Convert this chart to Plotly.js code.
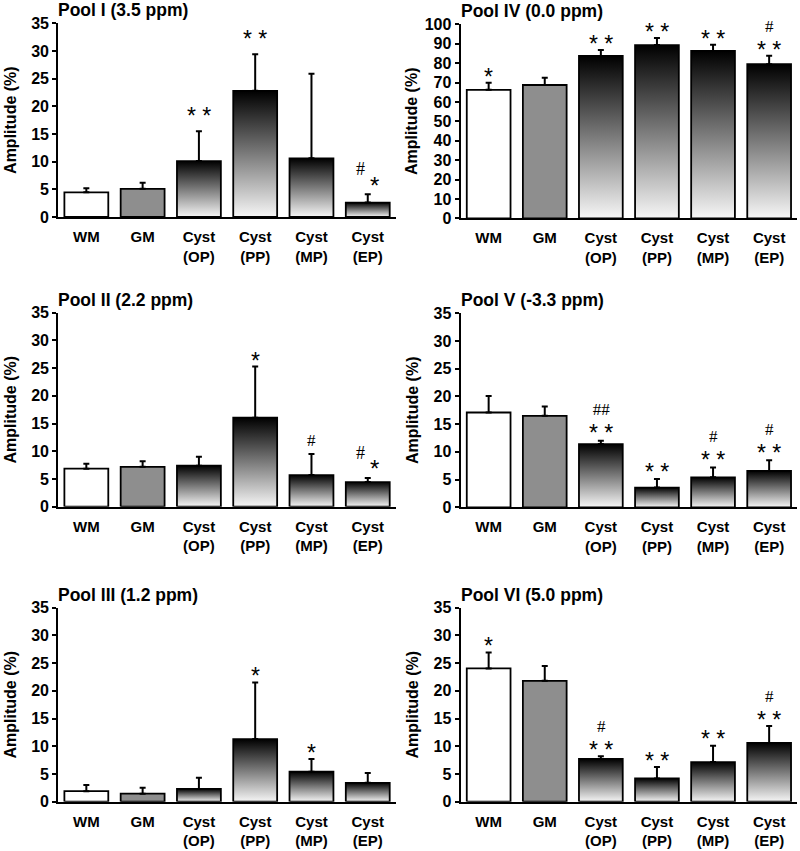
<!DOCTYPE html>
<html>
<head>
<meta charset="utf-8">
<script src="https://cdn.plot.ly/plotly-3.0.1.min.js"></script>
<style>html,body{margin:0;padding:0;background:#fff;}#chart{width:800px;height:851px;}</style>
</head>
<body>
<div id="chart"></div>
<script>
// ---------- data ----------
const categories = ['WM', 'GM', 'Cyst<br>(OP)', 'Cyst<br>(PP)', 'Cyst<br>(MP)', 'Cyst<br>(EP)'];

const pool1Mean = [4.45, 5.1, 10.1, 22.8, 10.6, 2.6];
const pool1Sd   = [0.75, 1.1, 5.4, 6.6, 15.3, 1.5];
const pool1Sig  = ['', '', '**', '**', '', '#*'];

const pool4Mean = [66.2, 68.7, 83.7, 89.3, 86.3, 79.4];
const pool4Sd   = [3.7, 3.8, 3.1, 3.7, 3.2, 4.4];
const pool4Sig  = ['*', '', '**', '**', '**', '#\n**'];

const pool2Mean = [6.86, 7.2, 7.4, 16.05, 5.7, 4.45];
const pool2Sd   = [0.9, 1.0, 1.6, 9.25, 3.8, 0.75];
const pool2Sig  = ['', '', '', '*', '#', '#*'];

const pool5Mean = [17.1, 16.5, 11.4, 3.55, 5.4, 6.55];
const pool5Sd   = [3.0, 1.7, 0.6, 1.55, 1.8, 1.95];
const pool5Sig  = ['', '', '##\n**', '**', '#\n**', '#\n**'];

const pool3Mean = [1.9, 1.45, 2.3, 11.3, 5.4, 3.4];
const pool3Sd   = [1.1, 1.05, 2.0, 10.2, 2.3, 1.8];
const pool3Sig  = ['', '', '', '*', '*', ''];

const pool6Mean = [24.05, 21.8, 7.7, 4.2, 7.15, 10.6];
const pool6Sd   = [2.85, 2.7, 0.5, 2.05, 2.95, 3.05];
const pool6Sig  = ['*', '', '#\n**', '**', '**', '#\n**'];

const panelTitles = ['Pool I (3.5 ppm)', 'Pool IV (0.0 ppm)', 'Pool II (2.2 ppm)',
                     'Pool V (-3.3 ppm)', 'Pool III (1.2 ppm)', 'Pool VI (5.0 ppm)'];

// ---------- layout config ----------
const H = 851, W = 800;
const leftX = [58.2 / W, 395.9 / W];
const rightX = [460.6 / W, 797.2 / W];
function yd(zeroPx, topPx) { return [1 - zeroPx / H, 1 - topPx / H]; }

const panels = [
  {mean: pool1Mean, sd: pool1Sd, sig: pool1Sig, ymax: 35, dtick: 5, xd: leftX,  yd: yd(217, 23.3),   standoff: 11, gap: 19},
  {mean: pool4Mean, sd: pool4Sd, sig: pool4Sig, ymax: 100, dtick: 10, xd: rightX, yd: yd(218.3, 24.3), standoff: 3, gap: 9},
  {mean: pool2Mean, sd: pool2Sd, sig: pool2Sig, ymax: 35, dtick: 5, xd: leftX,  yd: yd(506.7, 312.7), standoff: 11, gap: 9},
  {mean: pool5Mean, sd: pool5Sd, sig: pool5Sig, ymax: 35, dtick: 5, xd: rightX, yd: yd(507.3, 313.3), standoff: 11, gap: 11},
  {mean: pool3Mean, sd: pool3Sd, sig: pool3Sig, ymax: 35, dtick: 5, xd: leftX,  yd: yd(801.7, 607.7), standoff: 11, gap: 10},
  {mean: pool6Mean, sd: pool6Sd, sig: pool6Sig, ymax: 35, dtick: 5, xd: rightX, yd: yd(801.7, 607.7), standoff: 11, gap: 10}
];

const FONT = 'Liberation Sans, Arial, sans-serif';
const SERIF = 'Liberation Serif, Times New Roman, serif';
const HW = 0.39; // half bar width in category units
const traces = [];
const layout = {
  width: W, height: H,
  margin: {l: 0, r: 0, t: 0, b: 0},
  paper_bgcolor: '#fff', plot_bgcolor: 'rgba(0,0,0,0)',
  showlegend: false,
  annotations: []
};

const STAR_SIZE = 23, HASH_SIZE = 17;
const hashSpan = t => '<span style="font-family:Liberation Serif;font-size:' + HASH_SIZE + 'px">' + t + '</span>';
const starSpan = t => '<span style="font-size:' + STAR_SIZE + 'px">' + t.split('').join(' ') + '</span>';

panels.forEach((p, k) => {
  const n = k + 1;
  const xa = 'x' + (n === 1 ? '' : n), ya = 'y' + (n === 1 ? '' : n);
  const xkey = 'xaxis' + (n === 1 ? '' : n), ykey = 'yaxis' + (n === 1 ? '' : n);

  // bars
  p.mean.forEach((v, i) => {
    const t = {
      type: 'scatter', mode: 'lines', xaxis: xa, yaxis: ya,
      x: [i - HW, i - HW, i + HW, i + HW, i - HW],
      y: [0, v, v, 0, 0],
      fill: 'toself',
      line: {color: '#000', width: 1.8},
      hoverinfo: 'skip'
    };
    if (i === 0) t.fillcolor = '#ffffff';
    else if (i === 1) t.fillcolor = '#8e8e8e';
    else t.fillgradient = {type: 'vertical', start: 0, stop: v,
      colorscale: [[0, '#f6f6f6'], [1, '#000000']]};
    traces.push(t);
  });

  // error bars (upper only)
  traces.push({
    type: 'scatter', mode: 'markers', xaxis: xa, yaxis: ya,
    x: p.mean.map((_, i) => i), y: p.mean,
    marker: {size: 1, color: 'rgba(0,0,0,0)'},
    error_y: {type: 'data', symmetric: false, array: p.sd, arrayminus: p.sd.map(() => 0),
              color: '#000', thickness: 2, width: 3},
    hoverinfo: 'skip'
  });

  layout[xkey] = {
    domain: p.xd, anchor: ya, range: [-0.5, 5.5],
    tickmode: 'array', tickvals: categories.map((_, i) => i), ticktext: categories,
    showline: true, linecolor: '#000', linewidth: 2, ticks: '',
    ticklabelstandoff: 5,
    showgrid: false, zeroline: false, fixedrange: true,
    tickfont: {family: FONT, size: 15, weight: 'bold', color: '#000'}
  };
  layout[ykey] = {
    domain: p.yd, anchor: xa, range: [0, p.ymax], dtick: p.dtick, tick0: 0,
    showline: true, linecolor: '#000', linewidth: 2,
    ticks: 'outside', ticklen: 4, tickwidth: 2, tickcolor: '#000',
    showgrid: false, zeroline: false, fixedrange: true,
    tickfont: {family: FONT, size: 16, weight: 'bold', color: '#000'},
    title: {text: 'Amplitude (%)', standoff: p.standoff,
            font: {family: FONT, size: 16, weight: 'bold', color: '#000'}}
  };

  // panel title
  layout.annotations.push({
    xref: 'paper', yref: 'paper', x: p.xd[0], y: p.yd[1],
    xanchor: 'left', yanchor: 'bottom', yshift: 1, xshift: -2, showarrow: false,
    text: panelTitles[k],
    font: {family: FONT, size: 17.5, weight: 'bold', color: '#000'}
  });

  // significance markers
  p.sig.forEach((s, i) => {
    if (!s) return;
    const top = p.mean[i] + p.sd[i];
    const base = {xref: xa, yref: ya, x: i, y: top, xanchor: 'center', showarrow: false};
    if (s === '#*') {
      layout.annotations.push(Object.assign({}, base, {text: '#', xshift: -7, yshift: 25, yanchor: 'middle',
        font: {family: SERIF, size: HASH_SIZE + 1, color: '#000'}}));
      layout.annotations.push(Object.assign({}, base, {text: '*', xshift: 7, yshift: 9, yanchor: 'middle',
        font: {family: FONT, size: STAR_SIZE + 1, color: '#000'}}));
      return;
    }
    const lines = s.split('\n');
    const last = lines[lines.length - 1];
    const lastIsStar = last.indexOf('*') >= 0;
    const text = lines.map(ln => ln.indexOf('*') >= 0 ? starSpan(ln) : hashSpan(ln)).join('<br>');
    layout.annotations.push(Object.assign({}, base, {
      text: text, yanchor: 'bottom',
      yshift: lastIsStar ? p.gap - 18.5 : p.gap + 3 - 10,
      font: {family: FONT, size: 20, color: '#000'}
    }));
  });
});

Plotly.newPlot('chart', traces, layout, {staticPlot: true, displayModeBar: false});
</script>
</body>
</html>
